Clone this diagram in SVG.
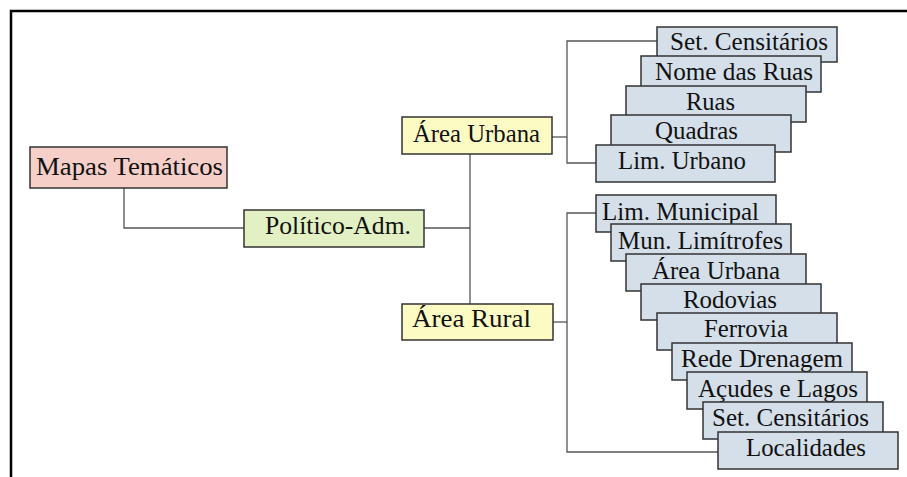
<svg xmlns="http://www.w3.org/2000/svg" width="907" height="477" viewBox="0 0 907 477">
  <style>
    .box { stroke: #333; stroke-width: 1.5; }
    .pink { fill: #f5cfc8; }
    .green { fill: #e2f0c4; }
    .yellow { fill: #fdfbc4; }
    .blue { fill: #d4dfe9; }
    .lbl { font-family: "Liberation Serif", "Times New Roman", serif; font-size: 25.5px; fill: #111; }
    .conn { fill: none; stroke: #555; stroke-width: 1.3; }
    .frame { fill: none; stroke: #000; stroke-width: 2.5; }
  </style>

  <rect x="0" y="0" width="907" height="477" fill="#fff"/>
  <path class="frame" d="M11 477 V11 H907"/>

  <!-- connectors -->
  <g id="connectors">
    <path class="conn" d="M124 188 V228 H244"/>
    <path class="conn" d="M424 228 H470"/>
    <path class="conn" d="M470 154 V304"/>
    <path class="conn" d="M552 137 H567"/>
    <path class="conn" d="M657 41 H567 V163 H596"/>
    <path class="conn" d="M553 322 H567"/>
    <path class="conn" d="M596 213 H567 V452 H718"/>
  </g>

  <g id="mapas-tematicos">
    <rect class="box pink" x="30" y="147" width="197" height="41"/>
    <text class="lbl" x="36" y="175" textLength="187" lengthAdjust="spacingAndGlyphs">Mapas Temáticos</text>
  </g>

  <g id="politico-adm">
    <rect class="box green" x="244" y="210" width="180" height="37"/>
    <text class="lbl" x="265" y="234" textLength="146" lengthAdjust="spacingAndGlyphs">Político-Adm.</text>
  </g>

  <g id="area-urbana">
    <rect class="box yellow" x="402" y="117" width="150" height="37"/>
    <text class="lbl" x="413" y="142" textLength="127" lengthAdjust="spacingAndGlyphs">Área Urbana</text>
  </g>

  <g id="area-rural">
    <rect class="box yellow" x="402" y="304" width="151" height="36"/>
    <text class="lbl" x="412" y="327" textLength="119" lengthAdjust="spacingAndGlyphs">Área Rural</text>
  </g>

  <!-- urban layers -->
  <g id="u-set-censitarios">
    <rect class="box blue" x="657" y="27" width="180" height="35"/>
    <text class="lbl" x="670" y="50" textLength="158" lengthAdjust="spacingAndGlyphs">Set. Censitários</text>
  </g>
  <g id="u-nome-ruas">
    <rect class="box blue" x="641" y="56" width="180" height="36"/>
    <text class="lbl" x="655" y="80" textLength="158" lengthAdjust="spacingAndGlyphs">Nome das Ruas</text>
  </g>
  <g id="u-ruas">
    <rect class="box blue" x="626" y="86" width="180" height="36"/>
    <text class="lbl" x="686" y="110" textLength="49" lengthAdjust="spacingAndGlyphs">Ruas</text>
  </g>
  <g id="u-quadras">
    <rect class="box blue" x="611" y="115" width="180" height="37"/>
    <text class="lbl" x="655" y="139" textLength="83" lengthAdjust="spacingAndGlyphs">Quadras</text>
  </g>
  <g id="u-lim-urbano">
    <rect class="box blue" x="596" y="145" width="179" height="37"/>
    <text class="lbl" x="618" y="169" textLength="128" lengthAdjust="spacingAndGlyphs">Lim. Urbano</text>
  </g>

  <!-- rural layers -->
  <g id="r-lim-municipal">
    <rect class="box blue" x="596" y="195" width="180" height="37"/>
    <text class="lbl" x="602" y="220" textLength="157" lengthAdjust="spacingAndGlyphs">Lim. Municipal</text>
  </g>
  <g id="r-mun-limitrofes">
    <rect class="box blue" x="611" y="224" width="180" height="37"/>
    <text class="lbl" x="618" y="249" textLength="165" lengthAdjust="spacingAndGlyphs">Mun. Limítrofes</text>
  </g>
  <g id="r-area-urbana">
    <rect class="box blue" x="626" y="254" width="180" height="37"/>
    <text class="lbl" x="652" y="279" textLength="128" lengthAdjust="spacingAndGlyphs">Área Urbana</text>
  </g>
  <g id="r-rodovias">
    <rect class="box blue" x="641" y="284" width="180" height="36"/>
    <text class="lbl" x="683" y="308" textLength="94" lengthAdjust="spacingAndGlyphs">Rodovias</text>
  </g>
  <g id="r-ferrovia">
    <rect class="box blue" x="657" y="313" width="180" height="37"/>
    <text class="lbl" x="704" y="337" textLength="84" lengthAdjust="spacingAndGlyphs">Ferrovia</text>
  </g>
  <g id="r-rede-drenagem">
    <rect class="box blue" x="672" y="343" width="180" height="37"/>
    <text class="lbl" x="681" y="367" textLength="162" lengthAdjust="spacingAndGlyphs">Rede Drenagem</text>
  </g>
  <g id="r-acudes-lagos">
    <rect class="box blue" x="687" y="372" width="180" height="37"/>
    <text class="lbl" x="698" y="397" textLength="160" lengthAdjust="spacingAndGlyphs">Açudes e Lagos</text>
  </g>
  <g id="r-set-censitarios">
    <rect class="box blue" x="703" y="402" width="180" height="37"/>
    <text class="lbl" x="712" y="426" textLength="157" lengthAdjust="spacingAndGlyphs">Set. Censitários</text>
  </g>
  <g id="r-localidades">
    <rect class="box blue" x="718" y="432" width="180" height="37"/>
    <text class="lbl" x="746" y="456" textLength="120" lengthAdjust="spacingAndGlyphs">Localidades</text>
  </g>
</svg>
